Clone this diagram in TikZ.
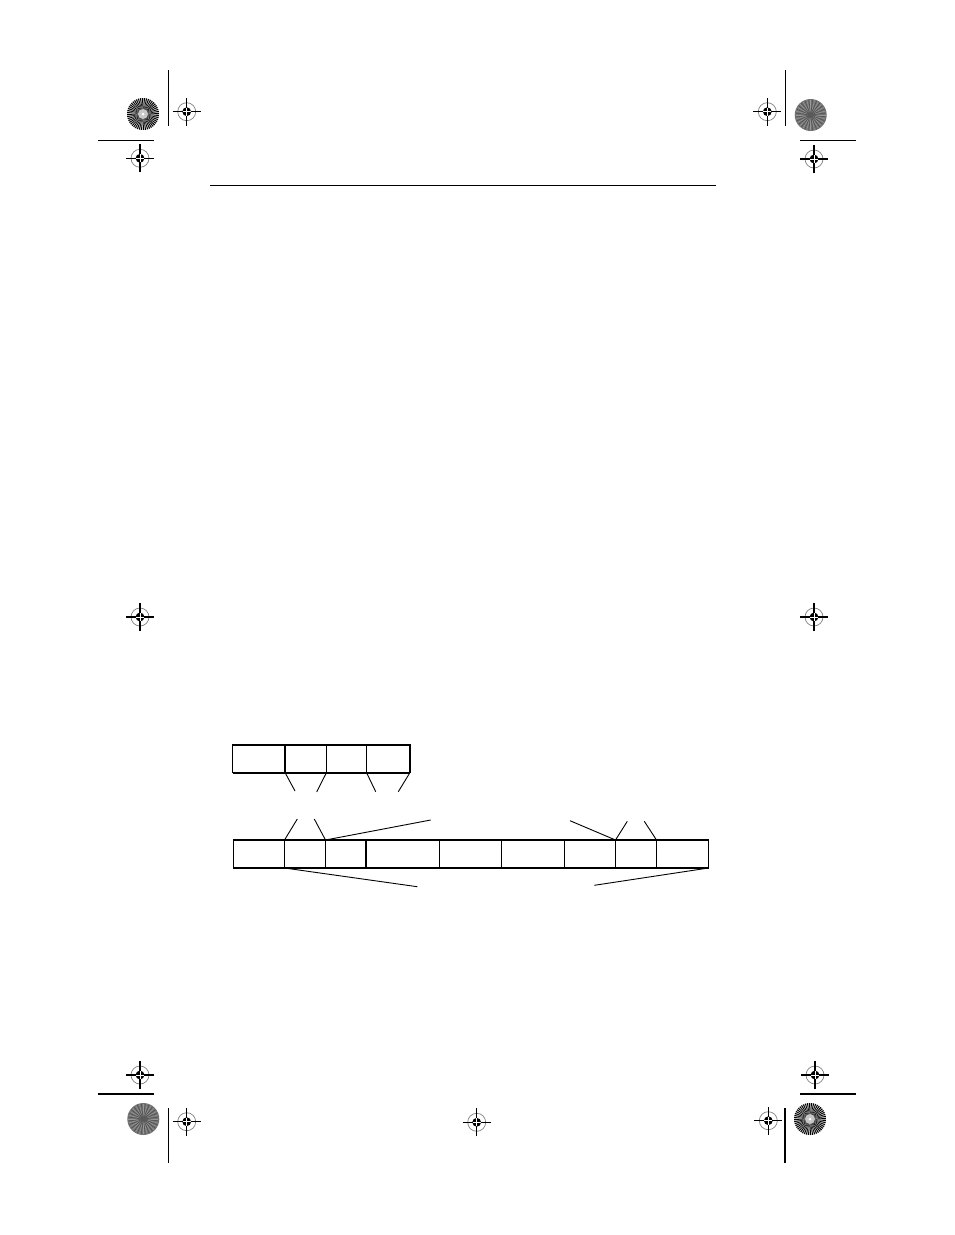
\documentclass[tikz,border=0pt]{standalone}
\usetikzlibrary{positioning}
\tikzset{
  cell/.style={draw, line width=1.1pt, inner sep=0pt, outer sep=0pt, minimum height=#1},
  link/.style={line width=0.9pt},
  regline/.style={line width=1.2pt},
  target/.pic={
    \draw[gray, line width=0.7pt] (0,0) circle (9pt);
    \fill (0,0) circle (4.4pt);
    \draw[white, line width=0.6pt] (-4.4pt,0)--(4.4pt,0) (0,-4.4pt)--(0,4.4pt);
    \draw[line width=1.1pt] (-14pt,0)--(-4pt,0) (4pt,0)--(14pt,0) (0,-14pt)--(0,-4pt) (0,4pt)--(0,14pt);
  },
  stripedstar/.pic={
    \fill[gray!35] (0,0) circle (16pt);
    \foreach \a in {0,7.5,...,352.5}{
      \fill[black] (0,0) -- (\a:16pt) arc[start angle=\a, end angle=\a+3.75, radius=16pt] -- cycle;
    }
    \fill[gray!45] (0,0) circle (5pt);
    \fill[white] (0,0) circle (1.5pt);
  },
  graystar/.pic={
    \fill[black!55] (0,0) circle (16pt);
    \foreach \a in {0,15,...,345}{
      \draw[black!40, line width=0.5pt] (0,0) -- (\a:15pt);
    }
    \foreach \a in {7.5,22.5,...,352.5}{
      \draw[black!70, line width=0.5pt] (0,0) -- (\a:15pt);
    }
    \fill[black!65] (0,0) circle (2pt);
  }
}
\begin{document}
\begin{tikzpicture}[x=1pt,y=-1pt]
\useasboundingbox (0,0) rectangle (954,1235);

% ---------- registration marks ----------
\pic at (143,114) {stripedstar};
\pic at (186.7,111.7) {target};
\pic at (140,158.3) {target};
\draw[regline] (168.7,70) -- (168.7,126);
\draw[regline] (98,140.3) -- (153.7,140.3);

\pic at (810.7,115) {graystar};
\pic at (767.3,111.7) {target};
\pic at (814,159) {target};
\draw[regline] (785.3,70) -- (785.3,126);
\draw[regline] (800,140.3) -- (855.7,140.3);

\pic at (140,617) {target};
\pic at (814,617) {target};

\pic at (143.3,1119) {graystar};
\pic at (186.7,1121.7) {target};
\pic at (140,1075) {target};
\draw[regline] (168.7,1108) -- (168.7,1163);
\draw[regline] (98,1094) -- (153.7,1094);

\pic at (810,1119) {stripedstar};
\pic at (768.3,1120.7) {target};
\pic at (815,1075) {target};
\draw[regline] (785,1108) -- (785,1163);
\draw[regline] (800,1094) -- (855.7,1094);

\pic at (476.7,1122.3) {target};

% header rule
\draw[regline] (210,185.3) -- (716,185.3);

% ---------- top row of cells ----------
\node[cell=27.5pt, minimum width=52.5pt] (t1) at (258.75,758.75) {};
\node[cell=27.5pt, minimum width=41.5pt] (t2) at (305.75,758.75) {};
\node[cell=27.5pt, minimum width=40pt]   (t3) at (346.5,758.75) {};
\node[cell=27.5pt, minimum width=43.5pt] (t4) at (388.25,758.75) {};
\draw[line width=2pt] (t1.south west) -- (t4.south east);

% ---------- bottom row of cells ----------
\node[cell=28pt, minimum width=51pt]   (b1) at (259,854) {};
\node[cell=28pt, minimum width=41pt]   (b2) at (305,854) {};
\node[cell=28pt, minimum width=40.5pt] (b3) at (345.75,854) {};
\node[cell=28pt, minimum width=73.5pt] (b4) at (402.75,854) {};
\node[cell=28pt, minimum width=62pt]   (b5) at (470.5,854) {};
\node[cell=28pt, minimum width=63pt]   (b6) at (533,854) {};
\node[cell=28pt, minimum width=51pt]   (b7) at (590,854) {};
\node[cell=28pt, minimum width=41pt]   (b8) at (636,854) {};
\node[cell=28pt, minimum width=52pt]   (b9) at (682.5,854) {};
\draw[line width=2pt] (b3.north east) -- (b3.south east);

% ---------- free ends ----------
\coordinate (u1) at (295,791);
\coordinate (u2) at (316.7,792);
\coordinate (u3) at (375.7,791.7);
\coordinate (u4) at (398.3,791.7);
\coordinate (v1) at (297.3,819);
\coordinate (v2) at (314.3,819);
\coordinate (v3) at (430.7,820);
\coordinate (v4) at (417.3,886.7);
\coordinate (w1) at (570,820.7);
\coordinate (w2) at (627.3,821.3);
\coordinate (w3) at (644.3,821.3);
\coordinate (w4) at (594.3,885.3);

% ---------- connectors ----------
\draw[link] (t1.south east) -- (u1);
\draw[link] (t2.south east) -- (u2);
\draw[link] (t3.south east) -- (u3);
\draw[link] (t4.south east) -- (u4);
\draw[link] (b1.north east) -- (v1);
\draw[link] (b2.north east) -- (v2);
\draw[link] (b2.north east) -- (v3);
\draw[link] (b1.south east) -- (v4);
\draw[link] (b7.north east) -- (w1);
\draw[link] (b7.north east) -- (w2);
\draw[link] (b8.north east) -- (w3);
\draw[link] (b9.south east) -- (w4);
\end{tikzpicture}
\end{document}
